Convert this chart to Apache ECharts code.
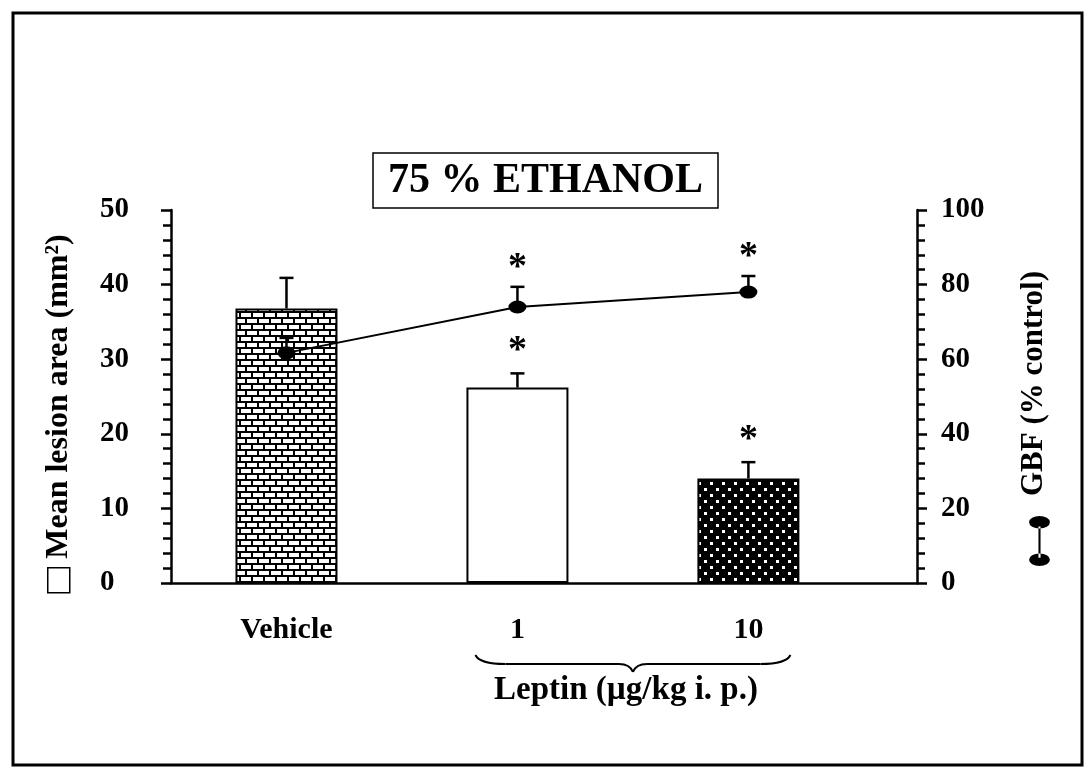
<!DOCTYPE html>
<html><head><meta charset="utf-8">
<script src="https://cdn.jsdelivr.net/npm/echarts@6/dist/echarts.min.js"></script>
<style>html,body{margin:0;padding:0;background:#fff}#c{width:1085px;height:776px}</style>
</head><body><div id="c"></div>
<script>
// ---- data ----
const categories = ['Vehicle', '1', '10'];
const xPositions = [1, 2, 3];
const lesionMean = [36.8, 26.2, 14.0];
const lesionUpper = [40.9, 28.1, 16.2];
const lesionSig = [false, true, true];
const gbfMean = [61.7, 74.0, 78.0];
const gbfUpper = [65.7, 79.4, 82.3];
const gbfSig = [false, true, true];
const titleText = '75 % ETHANOL';
const leftName = 'Mean lesion area (mm²)';
const rightName = 'GBF (% control)';
const groupName = 'Leptin (µg/kg i. p.)';

const FONT = '"Liberation Serif", "Times New Roman", serif';

function brickPattern() {
  const c = document.createElement('canvas'); c.width = 12; c.height = 12;
  const g = c.getContext('2d');
  g.fillStyle = '#000'; g.fillRect(0, 0, 12, 12);
  g.fillStyle = '#fff';
  g.fillRect(1, 1, 10, 4);
  g.fillRect(-5, 7, 10, 4); g.fillRect(7, 7, 10, 4);
  return c;
}
function dotPattern() {
  const c = document.createElement('canvas'); c.width = 12; c.height = 12;
  const g = c.getContext('2d');
  g.fillStyle = '#000'; g.fillRect(0, 0, 12, 12);
  g.fillStyle = '#fff';
  g.fillRect(2, 2, 3, 3); g.fillRect(8, 8, 3, 3);
  return c;
}
const fills = [
  { image: brickPattern(), repeat: 'repeat' },
  '#ffffff',
  { image: dotPattern(), repeat: 'repeat' }
];

const barData = xPositions.map((x, i) => ({ value: [x, lesionMean[i]], itemStyle: { color: fills[i] } }));
const lesionErrData = xPositions.map((x, i) => [x, lesionMean[i], lesionUpper[i], lesionSig[i] ? 1 : 0]);
const gbfLineData = xPositions.map((x, i) => [x, gbfMean[i]]);
const gbfErrData = xPositions.map((x, i) => [x, gbfMean[i], gbfUpper[i], gbfSig[i] ? 1 : 0]);

function errRender(starGap) {
  return function (params, api) {
    const x = api.value(0);
    const p0 = api.coord([x, api.value(1)]);
    const p1 = api.coord([x, api.value(2)]);
    const children = [
      { type: 'line', shape: { x1: p0[0], y1: p0[1], x2: p1[0], y2: p1[1] }, style: { stroke: '#000', lineWidth: 2.5 } },
      { type: 'line', shape: { x1: p1[0] - 7, y1: p1[1], x2: p1[0] + 7, y2: p1[1] }, style: { stroke: '#000', lineWidth: 2.5 } }
    ];
    if (api.value(3)) {
      children.push({ type: 'text', x: p1[0], y: p1[1] - starGap,
        style: { text: '*', fill: '#000', font: 'bold 38px ' + FONT, align: 'center', verticalAlign: 'middle' } });
    }
    return { type: 'group', children };
  };
}

const chart = echarts.init(document.getElementById('c'), null, { renderer: 'canvas' });
const axisCommon = {
  axisLine: { lineStyle: { color: '#000', width: 2.5 } },
  axisTick: { show: true, length: 10, lineStyle: { color: '#000', width: 2.5 } },
  minorTick: { show: true, splitNumber: 5, length: 8, lineStyle: { color: '#000', width: 2.5 } },
  splitLine: { show: false },
  minorSplitLine: { show: false }
};

chart.setOption({
  animation: false,
  backgroundColor: '#fff',
  title: {
    text: titleText, left: 373, top: 153,
    borderColor: '#000', borderWidth: 1.5, padding: [7, 15, 6, 15],
    textStyle: { fontFamily: FONT, fontWeight: 'bold', fontSize: 42, color: '#000' }
  },
  legend: [
    { data: [{ name: 'Mean lesion area', icon: 'rect', itemStyle: { color: '#fff', borderColor: '#000', borderWidth: 1.5 } }],
      left: 47, top: 567, padding: 0, itemWidth: 22, itemHeight: 25, formatter: () => '', selectedMode: false },
    { data: [{ name: 'GBF', icon: 'path://M0,6 A10,6 0 1,0 20,6 A10,6 0 1,0 0,6 Z M9,10 L11,10 L11,40 L9,40 Z M0,42 A10,6 0 1,0 20,42 A10,6 0 1,0 0,42 Z', itemStyle: { color: '#000' } }],
      left: 1029, top: 516, padding: 0, itemWidth: 21, itemHeight: 50, formatter: () => '', selectedMode: false }
  ],
  grid: { left: 171, right: 168, top: 210, bottom: 193 },
  xAxis: {
    type: 'value', min: 0.5, max: 3.73,
    axisLine: { lineStyle: { color: '#000', width: 2.5 } },
    axisTick: { show: false },
    splitLine: { show: false },
    axisLabel: {
      customValues: xPositions,
      formatter: v => categories[xPositions.indexOf(Math.round(v))] || '',
      margin: 32, color: '#000', fontFamily: FONT, fontWeight: 'bold', fontSize: 30
    },
    name: groupName, nameLocation: 'middle', nameGap: 91,
    nameTextStyle: { color: '#000', fontFamily: FONT, fontWeight: 'bold', fontSize: 33, padding: [0, 0, 0, 164] }
  },
  yAxis: [
    Object.assign({
      type: 'value', min: 0, max: 50, interval: 10, position: 'left',
      axisLabel: { align: 'left', margin: 71, color: '#000', fontFamily: FONT, fontWeight: 'bold', fontSize: 29 },
      name: leftName, nameLocation: 'middle', nameRotate: 90, nameGap: 96,
      nameTextStyle: { color: '#000', fontFamily: FONT, fontWeight: 'bold', fontSize: 32 }
    }, axisCommon),
    Object.assign({
      type: 'value', min: 0, max: 100, interval: 20, position: 'right',
      axisLabel: { align: 'left', margin: 24, color: '#000', fontFamily: FONT, fontWeight: 'bold', fontSize: 29 },
      name: rightName, nameLocation: 'middle', nameRotate: 90, nameGap: 101,
      nameTextStyle: { color: '#000', fontFamily: FONT, fontWeight: 'bold', fontSize: 31, padding: [0, 0, 0, 26] }
    }, axisCommon)
  ],
  series: [
    { name: 'Mean lesion area', type: 'bar', xAxisIndex: 0, yAxisIndex: 0, barWidth: 102, z: 2,
      itemStyle: { color: '#fff', borderColor: '#000', borderWidth: 2 }, data: barData },
    { name: 'lesionErr', type: 'custom', xAxisIndex: 0, yAxisIndex: 0, z: 3, renderItem: errRender(22),
      encode: { x: 0, y: [1, 2] }, data: lesionErrData },
    { name: 'gbfErr', type: 'custom', xAxisIndex: 0, yAxisIndex: 1, z: 4, renderItem: errRender(19),
      encode: { x: 0, y: [1, 2] }, data: gbfErrData },
    { name: 'GBF', type: 'line', xAxisIndex: 0, yAxisIndex: 1, z: 5,
      symbol: 'circle', symbolSize: [18, 13], showAllSymbol: true,
      lineStyle: { color: '#000', width: 2 }, itemStyle: { color: '#000' }, data: gbfLineData }
  ]
});

// outer frame and the brace under the leptin group (brace placed from the axis scale)
function drawDecor() {
  const xa = chart.convertToPixel({ xAxisIndex: 0 }, xPositions[1]) - 42;
  const xb = chart.convertToPixel({ xAxisIndex: 0 }, xPositions[2]) + 42;
  const y0 = chart.convertToPixel({ yAxisIndex: 0 }, 0) + 72;
  const xm = (xa + xb) / 2;
  const st = { fill: null, stroke: '#000', lineWidth: 2 };
  const seg = (s) => Object.assign({ style: st, silent: true }, s);
  chart.setOption({
    graphic: [
      { type: 'rect', shape: { x: 13, y: 13, width: 1069, height: 752 }, style: { fill: null, stroke: '#000', lineWidth: 3 }, silent: true },
      seg({ type: 'bezierCurve', shape: { x1: xa, y1: y0, cpx1: xa + 4, cpy1: y0 + 9, x2: xa + 30, y2: y0 + 9 } }),
      seg({ type: 'line', shape: { x1: xa + 30, y1: y0 + 9, x2: xm - 14, y2: y0 + 9 } }),
      seg({ type: 'bezierCurve', shape: { x1: xm - 14, y1: y0 + 9, cpx1: xm - 3, cpy1: y0 + 9, x2: xm, y2: y0 + 17 } }),
      seg({ type: 'bezierCurve', shape: { x1: xm, y1: y0 + 17, cpx1: xm + 3, cpy1: y0 + 9, x2: xm + 14, y2: y0 + 9 } }),
      seg({ type: 'line', shape: { x1: xm + 14, y1: y0 + 9, x2: xb - 30, y2: y0 + 9 } }),
      seg({ type: 'bezierCurve', shape: { x1: xb - 30, y1: y0 + 9, cpx1: xb - 4, cpy1: y0 + 9, x2: xb, y2: y0 } })
    ]
  });
}
drawDecor();
</script>
</body></html>
